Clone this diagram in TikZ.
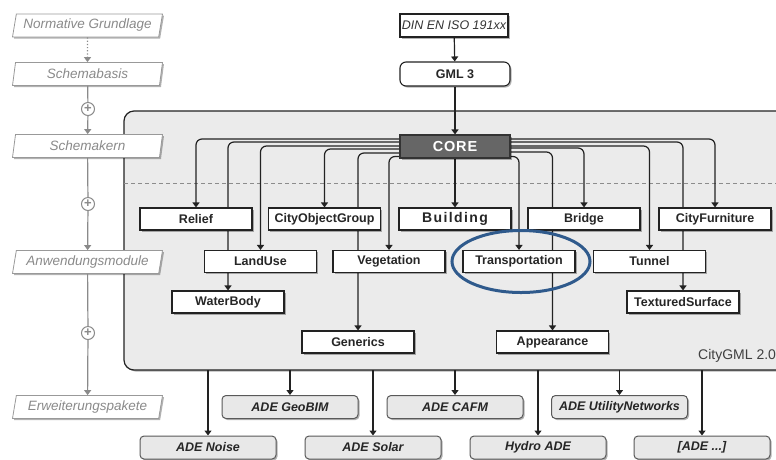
\documentclass[tikz,border=0pt]{standalone}
\usepackage{fontspec}
\setmainfont{Liberation Sans}
\usetikzlibrary{shapes.geometric,shadows,arrows.meta}
\definecolor{linecol}{HTML}{222222}
\definecolor{panel}{HTML}{EBEBEB}
\definecolor{labgray}{HTML}{8A8A8A}
\definecolor{ringblue}{HTML}{2F5A8C}
\definecolor{corefill}{HTML}{666666}
\definecolor{adefill}{HTML}{E8E8E8}
\pgfdeclarelayer{panellayer}
\pgfdeclarelayer{linelayer}
\pgfsetlayers{panellayer,linelayer,main}
\begin{document}
\begin{tikzpicture}[x=1pt,y=-1pt,
 shade/.style={drop shadow={shadow xshift=1.5pt,shadow yshift=-1.5pt,opacity=.3,fill=black}},
 modbox/.style={draw=linecol,line width=1.1pt,fill=white,minimum width=112pt,minimum height=22pt,inner sep=0pt,font=\fontsize{12.5}{14}\selectfont\bfseries,text=black!85,shade},
 adebox/.style={draw=black!65,line width=1pt,fill=adefill,rounded corners=4pt,minimum width=136pt,minimum height=23pt,inner sep=0pt,font=\fontsize{12.5}{14}\selectfont\bfseries\itshape,text=black!85,shade},
 layer/.style={trapezium,trapezium left angle=73,trapezium right angle=107,trapezium stretches body,draw=black!40,line width=.8pt,fill=white,minimum width=150pt,minimum height=23pt,inner sep=0pt,font=\fontsize{13.5}{15}\selectfont\itshape,text=labgray,shade},
 conn/.style={draw=linecol,line width=1.2pt,rounded corners=6pt},
 arr/.style={conn,-{Triangle[width=7pt,length=5pt]}},
 garr/.style={draw=labgray,line width=1.2pt,-{Triangle[width=7pt,length=5pt]}},
 plus/.style={circle,draw=labgray,line width=1pt,fill=white,minimum size=13pt,inner sep=0pt,font=\bfseries\fontsize{13}{13}\selectfont,text=labgray},
]
\useasboundingbox (0,0) rectangle (776,459);

% main panel
\begin{pgfonlayer}{panellayer}
\path[fill=panel,draw=linecol,line width=1.2pt,rounded corners=10pt,shade] (124,111) rectangle (810,370);
\draw[black!45,line width=.8pt,dash pattern=on 4pt off 3pt] (124,183) -- (776,183);
\end{pgfonlayer}
\coordinate (pbot) at (0,370);

% left column
\node[layer] (norm) at (87.5,25.5) {Normative Grundlage};
\node[layer] (basis) at (87.5,74) {Schemabasis};
\node[layer] (kern) at (87.5,146) {Schemakern};
\node[layer] (anw) at (87.5,262) {Anwendungsmodule};
\node[layer] (erw) at (87.5,407) {Erweiterungspakete};
\node[plus] (p1) at (88,109) {+};
\node[plus] (p2) at (88,204) {+};
\node[plus] (p3) at (88,333) {+};
\draw[garr,dotted] (norm) -- (basis);
\draw[garr] (basis) -- (p1) -- (kern);
\draw[garr] (kern) -- (p2) -- (anw);
\draw[garr] (anw) -- (p3) -- (erw);

% top
\node[draw=linecol,line width=1.1pt,fill=white,minimum width=108pt,minimum height=23pt,inner sep=0pt,font=\fontsize{12.5}{14}\selectfont\itshape,text=black!80,shade] (din) at (454,25.5) {DIN EN ISO 191xx};
\node[modbox,rounded corners=6pt,minimum width=110pt,minimum height=24pt] (gml) at (455,74) {GML 3};
\node[modbox,fill=corefill,draw=black!80,text=white,minimum width=110pt,minimum height=23pt,font=\fontsize{14.5}{16}\selectfont\bfseries\addfontfeature{LetterSpace=6}] (core) at (455,146.5) {CORE};

% modules
\node[modbox] (relief) at (196,219) {Relief};
\node[modbox] (cog) at (324.5,219) {CityObjectGroup};
\node[modbox,font=\fontsize{14}{16}\selectfont\bfseries\addfontfeature{LetterSpace=10}] (building) at (455,219) {Building};
\node[modbox] (bridge) at (584,219) {Bridge};
\node[modbox] (furniture) at (715,219) {CityFurniture};
\node[modbox] (landuse) at (260.5,261.5) {LandUse};
\node[modbox] (vegetation) at (389,261.5) {Vegetation};
\node[modbox] (transport) at (519,261.5) {Transportation};
\node[modbox] (tunnel) at (649.5,261.5) {Tunnel};
\node[modbox] (waterbody) at (228,302) {WaterBody};
\node[modbox] (textured) at (683,302) {TexturedSurface};
\node[modbox] (generics) at (358,342) {Generics};
\node[modbox] (appearance) at (552.5,342) {Appearance};

\node[anchor=west,inner sep=0pt,font=\fontsize{14}{16}\selectfont,text=black!75] (ver) at (698,356) {CityGML 2.0};

% ADE
\node[adebox] (geobim) at (290,407) {ADE GeoBIM};
\node[adebox] (cafm) at (455,407) {ADE CAFM};
\node[adebox] (utility) at (619.5,407) {ADE UtilityNetworks};
\node[adebox] (noise) at (208,447.5) {ADE Noise};
\node[adebox] (solar) at (373,447.5) {ADE Solar};
\node[adebox] (hydro) at (538,447.5) {Hydro ADE};
\node[adebox] (adex) at (702,447.5) {[ADE ...]};

\begin{pgfonlayer}{linelayer}
\draw[arr] (din) -- (gml);
\draw[arr] (gml) -- (core);
\draw[arr] (core) -- (building);
\draw[arr] ([yshift=7.5pt]core.west) -| (relief.north);
\draw[arr] ([yshift=4.5pt]core.west) -| (waterbody.north);
\draw[arr] ([yshift=0.5pt]core.west) -| (landuse.north);
\draw[arr] ([yshift=-2.5pt]core.west) -| (cog.north);
\draw[arr] ([yshift=-6.5pt]core.west) -| (generics.north);
\draw[arr] ([yshift=-10pt]core.west) -| (vegetation.north);
\draw[arr] ([yshift=7.5pt]core.east) -| (furniture.north);
\draw[arr] ([yshift=4.5pt]core.east) -| (textured.north);
\draw[arr] ([yshift=0.5pt]core.east) -| (tunnel.north);
\draw[arr] ([yshift=-1.5pt]core.east) -| (bridge.north);
\draw[arr] ([yshift=-5.5pt]core.east) -| (appearance.north);
\draw[arr] ([yshift=-10pt]core.east) -| (transport.north);
\draw[arr] (noise.north |- pbot) -- (noise.north);
\draw[arr] (geobim.north |- pbot) -- (geobim.north);
\draw[arr] (solar.north |- pbot) -- (solar.north);
\draw[arr] (cafm.north |- pbot) -- (cafm.north);
\draw[arr] (hydro.north |- pbot) -- (hydro.north);
\draw[arr] (utility.north |- pbot) -- (utility.north);
\draw[arr] (adex.north |- pbot) -- (adex.north);
\end{pgfonlayer}

% highlight
\node[ellipse,draw=ringblue,line width=3pt,minimum width=138pt,minimum height=62pt] (ring) at (521,261.5) {};
\end{tikzpicture}
\end{document}
